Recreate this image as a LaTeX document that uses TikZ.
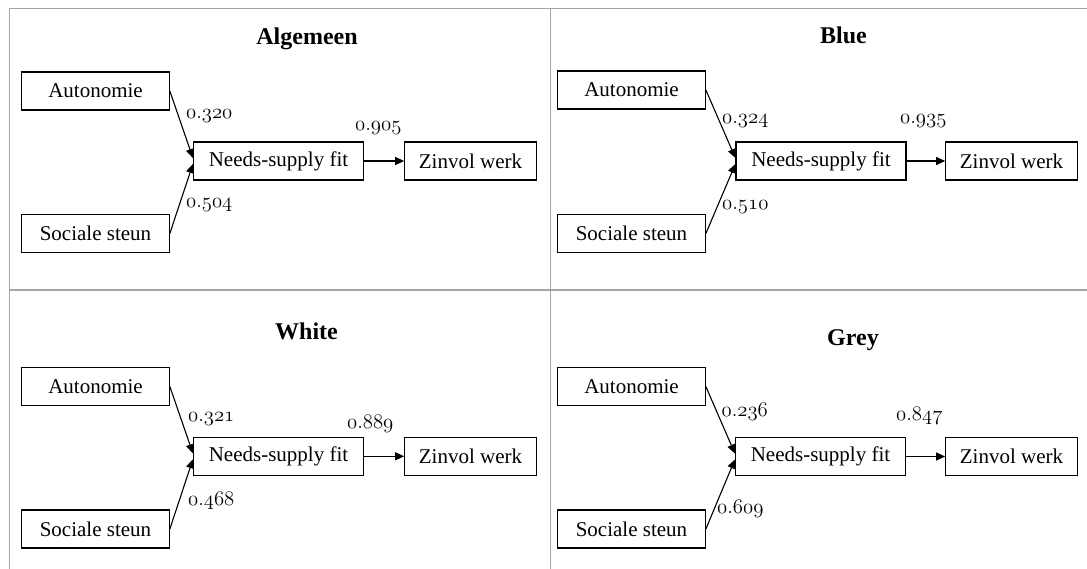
\documentclass[tikz,border=0pt]{standalone}
\usepackage{fontspec}
\setmainfont{Liberation Serif}
\usetikzlibrary{arrows.meta}
\definecolor{gridgray}{RGB}{165,165,165}
\newcommand{\osn}[1]{$\mathnormal{#1}$}
\tikzset{
  gridline/.style={draw=gridgray, line width=1.5pt},
  box/.style={draw=black, line width=1.2pt, minimum height=38pt, inner sep=0pt,
    font=\fontsize{21}{25}\selectfont},
  conn/.style={-{Triangle[length=9pt,width=8pt]}, line width=1.1pt},
  num/.style={anchor=base west, inner sep=0pt, font=\fontsize{22}{26}\selectfont},
  ttl/.style={anchor=base, inner sep=0pt, font=\fontsize{24}{28}\selectfont\bfseries},
  wA/.style={minimum width=147.5pt},
  wN/.style={minimum width=170pt},
  wZ/.style={minimum width=131.5pt}
}
\begin{document}
\begin{tikzpicture}[x=1pt,y=-1pt]
\useasboundingbox (0,0) rectangle (1087,569);
% grid
\draw[gridline] (9.5,569) -- (9.5,8.5) -- (1087,8.5);
\draw[gridline] (550.5,8.5) -- (550.5,569);
\draw[gridline] (9.5,290) -- (1087,290);

% Panel 1: Algemeen
\node[ttl] (t1) at (307,45) {Algemeen};
\node[box,wA] (a1) at (95.5,91) {Autonomie};
\node[box,wA] (s1) at (95.5,233.5) {Sociale steun};
\node[box,wN] (n1) at (278.5,161) {Needs-supply fit};
\node[box,wZ] (z1) at (470.5,161) {Zinvol werk};
\draw[conn] (a1.east) -- ([yshift=3pt]n1.west);
\draw[conn] (s1.east) -- ([yshift=-3pt]n1.west);
\draw[conn] (n1.east) -- (z1.west);
\node[num] (la1) at (186,118.3) {\osn{0.320}};
\node[num] (ls1) at (186,207.3) {\osn{0.504}};
\node[num] (ln1) at (355,130.7) {\osn{0.905}};

% Panel 2: Blue
\node[ttl] (t2) at (843.5,44) {Blue};
\node[box,wA] (a2) at (631.5,90) {Autonomie};
\node[box,wA] (s2) at (631.5,233.5) {Sociale steun};
\node[box,wN] (n2) at (821,161) {Needs-supply fit};
\node[box,wZ] (z2) at (1011.5,161) {Zinvol werk};
\draw[conn] (a2.east) -- ([yshift=3pt]n2.west);
\draw[conn] (s2.east) -- ([yshift=-3pt]n2.west);
\draw[conn] (n2.east) -- (z2.west);
\node[num] (la2) at (722,123.3) {\osn{0.324}};
\node[num] (ls2) at (722,210) {\osn{0.510}};
\node[num] (ln2) at (900,124) {\osn{0.935}};

% Panel 3: White
\node[ttl] (t3) at (306.5,340) {White};
\node[box,wA] (a3) at (95.5,386.5) {Autonomie};
\node[box,wA] (s3) at (95.5,529) {Sociale steun};
\node[box,wN] (n3) at (278.5,456.3) {Needs-supply fit};
\node[box,wZ] (z3) at (470.5,456.3) {Zinvol werk};
\draw[conn] (a3.east) -- ([yshift=3pt]n3.west);
\draw[conn] (s3.east) -- ([yshift=-3pt]n3.west);
\draw[conn] (n3.east) -- (z3.west);
\node[num] (la3) at (188,421.7) {\osn{0.321}};
\node[num] (ls3) at (188,505.7) {\osn{0.468}};
\node[num] (ln3) at (347,428.3) {\osn{0.889}};

% Panel 4: Grey
\node[ttl] (t4) at (853,345) {Grey};
\node[box,wA] (a4) at (631.5,386.5) {Autonomie};
\node[box,wA] (s4) at (631.5,529) {Sociale steun};
\node[box,wN] (n4) at (820.5,456.5) {Needs-supply fit};
\node[box,wZ] (z4) at (1011.5,456.5) {Zinvol werk};
\draw[conn] (a4.east) -- ([yshift=3pt]n4.west);
\draw[conn] (s4.east) -- ([yshift=-3pt]n4.west);
\draw[conn] (n4.east) -- (z4.west);
\node[num] (la4) at (721.4,416) {\osn{0.236}};
\node[num] (ls4) at (717,513.3) {\osn{0.609}};
\node[num] (ln4) at (896,420) {\osn{0.847}};
\end{tikzpicture}
\end{document}
